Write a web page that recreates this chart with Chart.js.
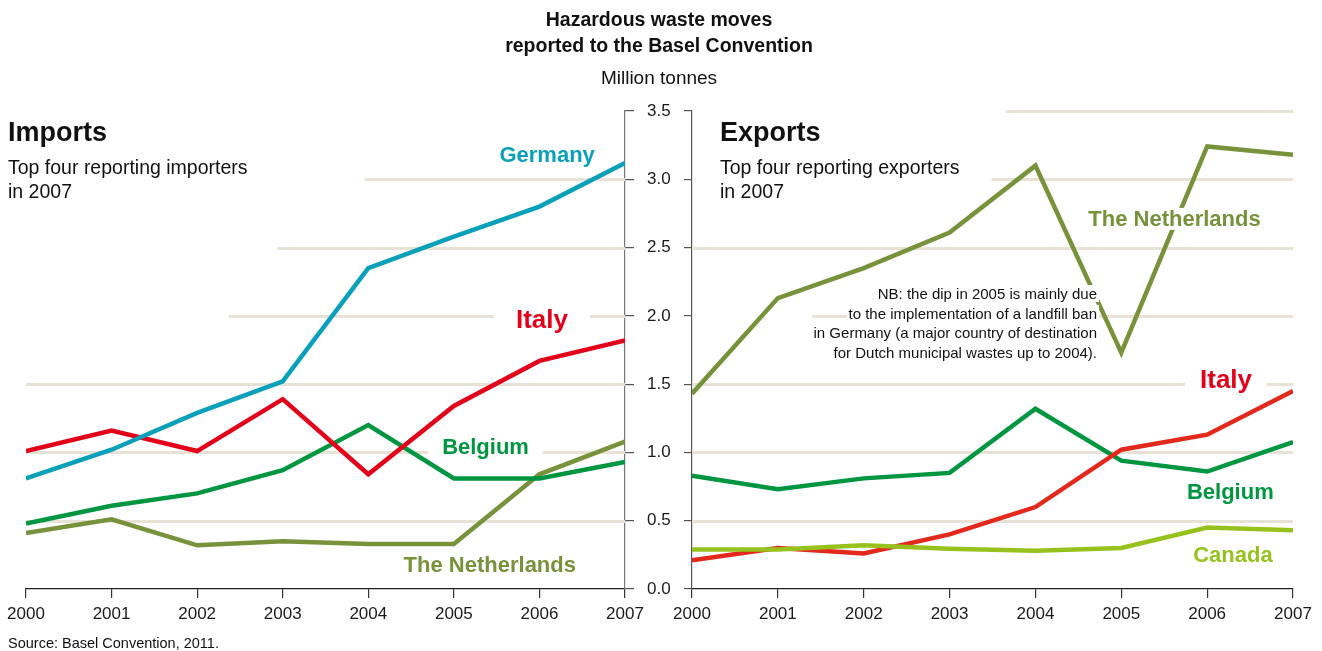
<!DOCTYPE html>
<html>
<head>
<meta charset="utf-8">
<title>Hazardous waste moves reported to the Basel Convention</title>
<script src="https://cdn.jsdelivr.net/npm/chart.js@4.4.1/dist/chart.umd.min.js"></script>
<style>
  body { margin: 0; background: #fff; }
  #wrap { position: relative; width: 1322px; height: 651px; overflow: hidden;
          font-family: "Liberation Sans", Arial, sans-serif; color: #111; }
  canvas { position: absolute; top: 0; }
  #importsCanvas { left: 0; }
  #exportsCanvas { left: 650px; }
  .txt { position: absolute; white-space: nowrap; }
  #title { left: 0; width: 1318px; top: 6px; text-align: center; font-weight: bold;
           font-size: 19.5px; line-height: 26px; }
  #unit { left: 0; width: 1318px; top: 66px; text-align: center; font-size: 19px; line-height: 24px; }
  .head { top: 115px; font-weight: bold; font-size: 27px; line-height: 34px; }
  .sub { top: 155px; font-size: 19.5px; line-height: 24px; }
  #note { right: 223px; top: 284px; text-align: right; font-size: 15px; line-height: 19.7px; }
  #note span { background: #fff; padding: 0 2px; }
  #source { left: 8px; top: 634px; font-size: 14.5px; line-height: 18px; }
</style>
</head>
<body>
<div id="wrap">
  <canvas id="importsCanvas" width="680" height="651"></canvas>
  <canvas id="exportsCanvas" width="672" height="651"></canvas>

  <div class="txt" id="title">Hazardous waste moves<br>reported to the Basel Convention</div>
  <div class="txt" id="unit">Million tonnes</div>

  <div class="txt head" style="left:8px">Imports</div>
  <div class="txt sub" style="left:8px">Top four reporting importers<br>in 2007</div>

  <div class="txt head" style="left:720px">Exports</div>
  <div class="txt sub" style="left:720px">Top four reporting exporters<br>in 2007</div>

  <div class="txt" id="note"><span>NB: the dip in 2005 is mainly due</span><br><span>to the implementation of a landfill ban</span><br><span>in Germany (a major country of destination</span><br><span>for Dutch municipal wastes up to 2004).</span></div>

  <div class="txt" id="source">Source: Basel Convention, 2011.</div>
</div>

<script>
// data, million tonnes
const years = [2000, 2001, 2002, 2003, 2004, 2005, 2006, 2007];
const yTicks = [0, 0.5, 1, 1.5, 2, 2.5, 3, 3.5];

const importsGermany     = [0.81, 1.02, 1.29, 1.52, 2.35, 2.58, 2.80, 3.12];
const importsItaly       = [1.01, 1.16, 1.01, 1.39, 0.84, 1.34, 1.67, 1.82];
const importsBelgium     = [0.48, 0.61, 0.70, 0.87, 1.20, 0.81, 0.81, 0.93];
const importsNetherlands = [0.41, 0.51, 0.32, 0.35, 0.33, 0.33, 0.84, 1.08];

const exportsNetherlands = [1.43, 2.13, 2.35, 2.61, 3.10, 1.73, 3.24, 3.18];
const exportsItaly       = [0.21, 0.30, 0.26, 0.40, 0.60, 1.02, 1.13, 1.45];
const exportsBelgium     = [0.83, 0.73, 0.81, 0.85, 1.32, 0.94, 0.86, 1.075];
const exportsCanada      = [0.29, 0.29, 0.32, 0.295, 0.28, 0.30, 0.45, 0.43];

const FONT = '"Liberation Sans", Arial, sans-serif';
const GRID_COLOR = '#e6e3d6';

const colors = {
  germany: '#0aa0ba',
  italy: '#e2001a',
  italyExp: '#e3281c',
  belgium: '#009641',
  netherlands: '#77923a',
  canada: '#97c21e'
};

const toPoints = (arr) => years.map((yr, i) => ({ x: yr, y: arr[i] }));

const lineSet = (arr, color) => ({
  data: toPoints(arr),
  borderColor: color,
  borderWidth: 4.5,
  pointRadius: 0,
  tension: 0,
  fill: false,
  borderJoinStyle: 'miter',
  borderCapStyle: 'butt'
});

// beige grid lines that start part way in (text sits to their left)
const partialGrid = {
  id: 'partialGrid',
  beforeDatasetsDraw(chart, args, opts) {
    const { ctx, chartArea, scales: { x, y } } = chart;
    ctx.save();
    ctx.strokeStyle = GRID_COLOR;
    ctx.lineWidth = 3;
    opts.lines.forEach((g) => {
      const py = Math.round(y.getPixelForValue(g.value)) + 0.5;
      ctx.beginPath();
      ctx.moveTo(x.getPixelForValue(g.from), py);
      ctx.lineTo(chartArea.right, py);
      ctx.stroke();
    });
    ctx.restore();
  }
};

// country names on a white patch, drawn over the lines
const seriesLabels = {
  id: 'seriesLabels',
  afterDatasetsDraw(chart, args, opts) {
    const { ctx, scales: { x, y } } = chart;
    ctx.save();
    opts.items.forEach((l) => {
      const px = x.getPixelForValue(l.year);
      const py = y.getPixelForValue(l.value);
      ctx.font = 'bold ' + l.size + 'px ' + FONT;
      const w = ctx.measureText(l.text).width;
      ctx.fillStyle = '#fff';
      ctx.fillRect(px - w / 2 - l.pad, py - l.size * 0.5, w + l.pad * 2, l.size);
      ctx.fillStyle = l.color;
      ctx.textAlign = 'center';
      ctx.textBaseline = 'middle';
      ctx.fillText(l.text, px, py + 1);
    });
    ctx.restore();
  }
};

const xScale = (extra) => Object.assign({
  type: 'linear',
  min: 2000,
  max: 2007,
  afterBuildTicks: (s) => { s.ticks = years.map((v) => ({ value: v })); },
  afterFit: (s) => { s.height = 62; },
  grid: { drawOnChartArea: false, tickLength: 9, color: '#333', lineWidth: 1.2 },
  border: { color: '#222', width: 1.3 },
  ticks: {
    font: { size: 17, family: FONT },
    color: '#1a1a1a',
    padding: 6,
    maxRotation: 0,
    autoSkip: false,
    callback: (v) => String(v)
  }
}, extra);

const baseOptions = {
  responsive: false,
  animation: false,
  events: [],
  plugins: { legend: { display: false }, tooltip: { enabled: false } }
};

// Imports (left), value axis on its right side
new Chart(document.getElementById('importsCanvas'), {
  type: 'line',
  data: {
    datasets: [
      lineSet(importsGermany, colors.germany),
      lineSet(importsItaly, colors.italy),
      lineSet(importsBelgium, colors.belgium),
      lineSet(importsNetherlands, colors.netherlands)
    ]
  },
  options: Object.assign({}, baseOptions, {
    layout: { padding: { left: 26, top: 111, right: 0, bottom: 0 } },
    scales: {
      x: xScale(),
      y: {
        position: 'right',
        min: 0,
        max: 3.5,
        afterBuildTicks: (s) => { s.ticks = yTicks.map((v) => ({ value: v })); },
        afterFit: (s) => { s.width = 55; },
        grid: { drawOnChartArea: false, tickLength: 9, color: '#555', lineWidth: 1.2 },
        border: { color: '#777', width: 1.2 },
        ticks: { font: { size: 17, family: FONT }, color: '#1a1a1a', padding: 13,
                 callback: (v) => v.toFixed(1) }
      }
    },
    plugins: Object.assign({}, baseOptions.plugins, {
      partialGrid: { lines: [
        { value: 3.0, from: 2003.96 },
        { value: 2.5, from: 2002.94 },
        { value: 2.0, from: 2002.37 },
        { value: 1.5, from: 2000 },
        { value: 1.0, from: 2000 },
        { value: 0.5, from: 2000 }
      ] },
      seriesLabels: { items: [
        { text: 'Germany', year: 2006.09, value: 3.18, size: 22, pad: 6, color: colors.germany },
        { text: 'Italy', year: 2006.03, value: 1.97, size: 26, pad: 22, color: colors.italy },
        { text: 'Belgium', year: 2005.37, value: 1.04, size: 22, pad: 14, color: colors.belgium },
        { text: 'The Netherlands', year: 2005.42, value: 0.176, size: 22, pad: 6, color: colors.netherlands }
      ] }
    })
  }),
  plugins: [partialGrid, seriesLabels]
});

// Exports (right), plain axis with tick marks only
new Chart(document.getElementById('exportsCanvas'), {
  type: 'line',
  data: {
    datasets: [
      lineSet(exportsCanada, colors.canada),
      lineSet(exportsItaly, colors.italyExp),
      lineSet(exportsBelgium, colors.belgium),
      lineSet(exportsNetherlands, colors.netherlands)
    ]
  },
  options: Object.assign({}, baseOptions, {
    layout: { padding: { left: 0, top: 111, right: 29, bottom: 0 } },
    scales: {
      x: xScale(),
      y: {
        position: 'left',
        min: 0,
        max: 3.5,
        afterBuildTicks: (s) => { s.ticks = yTicks.map((v) => ({ value: v })); },
        afterFit: (s) => { s.width = 42; },
        grid: { drawOnChartArea: false, tickLength: 8, color: '#555', lineWidth: 1.2 },
        border: { color: '#555', width: 1.2 },
        ticks: { display: false }
      }
    },
    plugins: Object.assign({}, baseOptions.plugins, {
      partialGrid: { lines: [
        { value: 3.5, from: 2003.66 },
        { value: 3.0, from: 2003.49 },
        { value: 2.5, from: 2000 },
        { value: 2.0, from: 2001.40 },
        { value: 1.5, from: 2000 },
        { value: 1.0, from: 2000 },
        { value: 0.5, from: 2000 }
      ] },
      seriesLabels: { items: [
        { text: 'The Netherlands', year: 2005.62, value: 2.71, size: 22, pad: 6, color: colors.netherlands },
        { text: 'Italy', year: 2006.22, value: 1.53, size: 26, pad: 15, color: colors.italy },
        { text: 'Belgium', year: 2006.27, value: 0.71, size: 22, pad: 6, color: colors.belgium },
        { text: 'Canada', year: 2006.30, value: 0.25, size: 22, pad: 6, color: colors.canada }
      ] }
    })
  }),
  plugins: [partialGrid, seriesLabels]
});
</script>
</body>
</html>
